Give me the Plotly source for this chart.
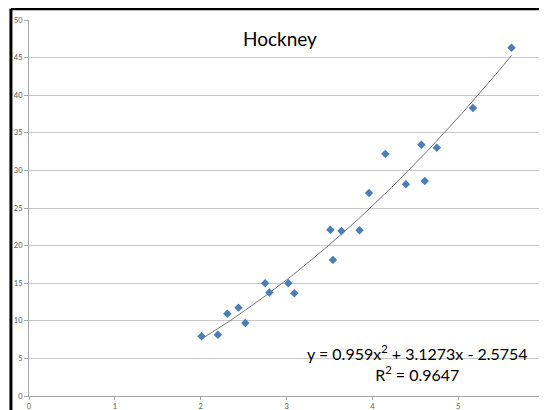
import numpy as np
import plotly.graph_objects as go

# Data
x_values = [2.01, 2.20, 2.31, 2.44, 2.52, 2.75, 2.80, 3.02, 3.09, 3.51, 3.54,
            3.64, 3.85, 3.96, 4.15, 4.39, 4.57, 4.61, 4.75, 5.17, 5.62]
y_values = [7.95, 8.15, 10.95, 11.75, 9.7, 15.0, 13.75, 15.0, 13.65, 22.1, 18.1,
            21.95, 22.05, 27.0, 32.2, 28.15, 33.4, 28.6, 33.0, 38.3, 46.3]
# Trendline coefficients shown on the chart (a, b, c for a*x^2 + b*x + c)
trend_coeffs = [0.959, 3.1273, -2.5754]
x_ticks = [0, 1, 2, 3, 4, 5, 6]
y_ticks = [0, 5, 10, 15, 20, 25, 30, 35, 40, 45, 50]
title_text = "Hockney"
equation_text = "y = 0.959x<sup>2</sup> + 3.1273x - 2.5754<br>R<sup>2</sup> = 0.9647"

tx = np.linspace(min(x_values), max(x_values), 200)
ty = np.polyval(trend_coeffs, tx)

fig = go.Figure()
fig.add_trace(go.Scatter(x=tx, y=ty, mode="lines",
                         line=dict(color="#777777", width=1), hoverinfo="skip",
                         showlegend=False))
fig.add_trace(go.Scatter(x=x_values, y=y_values, mode="markers",
                         marker=dict(symbol="diamond", size=6.5, color="#4A7EBB"),
                         showlegend=False))

font_family = "Lato, 'Open Sans', sans-serif"
fig.update_layout(
    width=539, height=402,
    margin=dict(l=21, r=2, t=12, b=14),
    paper_bgcolor="white", plot_bgcolor="white",
    font=dict(family=font_family, color="#595959"),
    xaxis=dict(range=[0, 6.01], tickvals=x_ticks, showgrid=False, zeroline=False,
               automargin=False, ticklabeloverflow="allow",
               showline=True, linecolor="#A6A6A6", linewidth=1,
               ticks="outside", ticklen=3, tickcolor="#A6A6A6",
               tickfont=dict(size=7.5, color="#595959")),
    yaxis=dict(range=[0, 50], tickvals=y_ticks, showgrid=True, gridcolor="#C8C8C8",
               gridwidth=1, zeroline=False, automargin=False,
               ticklabeloverflow="allow",
               showline=True, linecolor="#A6A6A6", linewidth=1,
               ticks="outside", ticklen=4, tickcolor="#A6A6A6",
               tickfont=dict(size=7.5, color="#595959")),
    annotations=[
        dict(text=title_text, xref="paper", yref="paper", x=0.486, y=0.952,
             showarrow=False, xanchor="center", yanchor="middle",
             font=dict(size=19, color="#000000", family=font_family)),
        dict(text=equation_text, xref="paper", yref="paper", x=0.752, y=0.089,
             showarrow=False, xanchor="center", yanchor="middle", align="center",
             font=dict(size=16, color="#000000", family=font_family)),
    ],
    shapes=[
        dict(type="line", xref="paper", yref="paper", x0=-0.035, x1=-0.035,
             y0=-0.2, y1=1.03, line=dict(color="black", width=3)),
        dict(type="line", xref="paper", yref="paper", x0=-0.035, x1=1.2,
             y0=1.03, y1=1.03, line=dict(color="black", width=3)),
    ],
)

fig.write_html("out.html")
